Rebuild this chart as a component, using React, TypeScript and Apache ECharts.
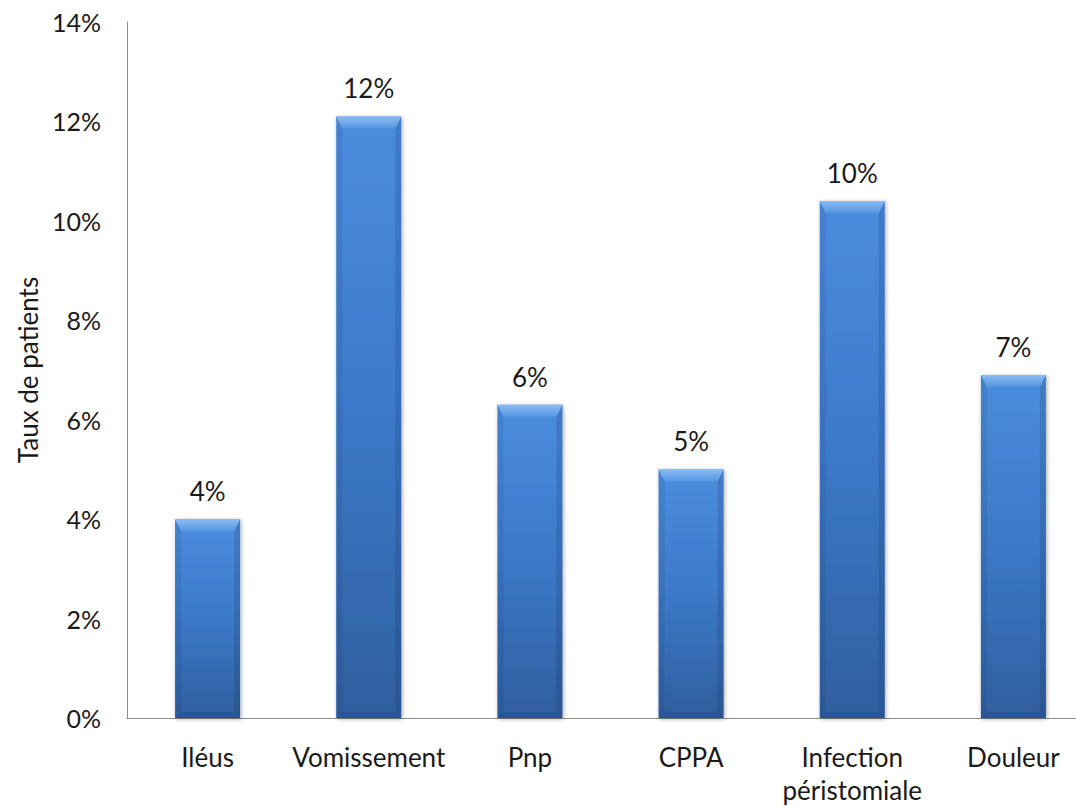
import React, { useEffect, useRef } from "react";
import * as echarts from "echarts";

// Complication categories and the share of patients affected (in %)
const categories: string[] = [
  "Iléus",
  "Vomissement",
  "Pnp",
  "CPPA",
  "Infection\npéristomiale",
  "Douleur",
];
const patientRates: number[] = [4.0, 12.1, 6.3, 5.0, 10.4, 6.9];

const yAxisTitle = "Taux de patients";
const yMin = 0;
const yMax = 14;
const yStep = 2;

const FONT = "Lato, 'Open Sans', sans-serif";
const BAR_WIDTH = 65;

export default function App() {
  const ref = useRef<HTMLDivElement | null>(null);

  useEffect(() => {
    if (!ref.current) return;
    const chart = echarts.init(ref.current, undefined, { renderer: "svg" });

    const barFill = new echarts.graphic.LinearGradient(0, 0, 0, 1, [
      { offset: 0, color: "#4b8ddd" },
      { offset: 0.5, color: "#3c79c8" },
      { offset: 1, color: "#2f5f9f" },
    ]);

    // Bevel overlay: light top facet, shaded sides and bottom, drawn on top of each bar
    const bevel = (_params: any, api: any) => {
      const idx = api.value(0);
      const v = api.value(1);
      const top = api.coord([idx, v]);
      const bot = api.coord([idx, 0]);
      const x0 = top[0] - BAR_WIDTH / 2;
      const x1 = top[0] + BAR_WIDTH / 2;
      const y0 = top[1];
      const y1 = bot[1];
      const t = 12;
      const s = 6;
      return {
        type: "group",
        children: [
          {
            type: "polygon",
            shape: { points: [[x0, y0], [x0 + s, y0 + t], [x0 + s, y1 - s], [x0, y1]] },
            style: { fill: "rgba(20,40,90,0.10)" },
          },
          {
            type: "polygon",
            shape: { points: [[x1, y0], [x1 - s, y0 + t], [x1 - s, y1 - s], [x1, y1]] },
            style: { fill: "rgba(20,40,90,0.16)" },
          },
          {
            type: "polygon",
            shape: { points: [[x0, y1], [x0 + s, y1 - s], [x1 - s, y1 - s], [x1, y1]] },
            style: { fill: "rgba(20,40,90,0.18)" },
          },
          {
            type: "polygon",
            shape: { points: [[x0, y0], [x1, y0], [x1 - s, y0 + t], [x0 + s, y0 + t]] },
            style: {
              fill: new echarts.graphic.LinearGradient(0, 0, 0, 1, [
                { offset: 0, color: "#8cbcf3" },
                { offset: 1, color: "#5596e2" },
              ]),
            },
          },
        ],
      };
    };

    chart.setOption({
      animation: false,
      backgroundColor: "#ffffff",
      grid: { left: 127, top: 22, width: 967, height: 697, containLabel: false },
      xAxis: {
        type: "category",
        data: categories,
        axisLine: { show: true, lineStyle: { color: "#8c8c8c", width: 1 } },
        axisTick: { show: false },
        axisLabel: {
          color: "#1a1a1a",
          fontFamily: FONT,
          fontSize: 26,
          margin: 22,
          lineHeight: 33,
          interval: 0,
        },
      },
      yAxis: {
        type: "value",
        min: yMin,
        max: yMax,
        interval: yStep,
        name: yAxisTitle,
        nameLocation: "middle",
        nameGap: 84,
        nameRotate: 90,
        nameTextStyle: { color: "#1a1a1a", fontFamily: FONT, fontSize: 26 },
        axisLine: { show: true, lineStyle: { color: "#8c8c8c", width: 1 } },
        axisTick: { show: false },
        splitLine: { show: false },
        axisLabel: {
          color: "#1a1a1a",
          fontFamily: FONT,
          fontSize: 25,
          margin: 26,
          formatter: (v: number) => `${v}%`,
        },
      },
      series: [
        {
          type: "bar",
          data: patientRates,
          barWidth: BAR_WIDTH,
          z: 2,
          itemStyle: {
            color: barFill,
            shadowColor: "rgba(0,0,0,0.35)",
            shadowBlur: 4,
            shadowOffsetX: 1,
            shadowOffsetY: 1,
          },
          label: {
            show: true,
            position: "top",
            distance: 15,
            color: "#1a1a1a",
            fontFamily: FONT,
            fontSize: 26,
            formatter: (p: any) => `${Math.round(p.value)}%`,
          },
        },
        {
          type: "custom",
          data: patientRates.map((v, i) => [i, v]),
          encode: { x: 0, y: 1 },
          renderItem: bevel,
          z: 3,
          silent: true,
        },
      ],
    });

    return () => chart.dispose();
  }, []);

  // The plot runs past the right edge, so the chart canvas is wider than the visible frame
  return (
    <div
      style={{
        position: "fixed",
        left: 0,
        top: 0,
        width: 1076,
        height: 806,
        overflow: "hidden",
        background: "#ffffff",
      }}
    >
      <div ref={ref} style={{ width: 1120, height: 806 }} />
    </div>
  );
}
